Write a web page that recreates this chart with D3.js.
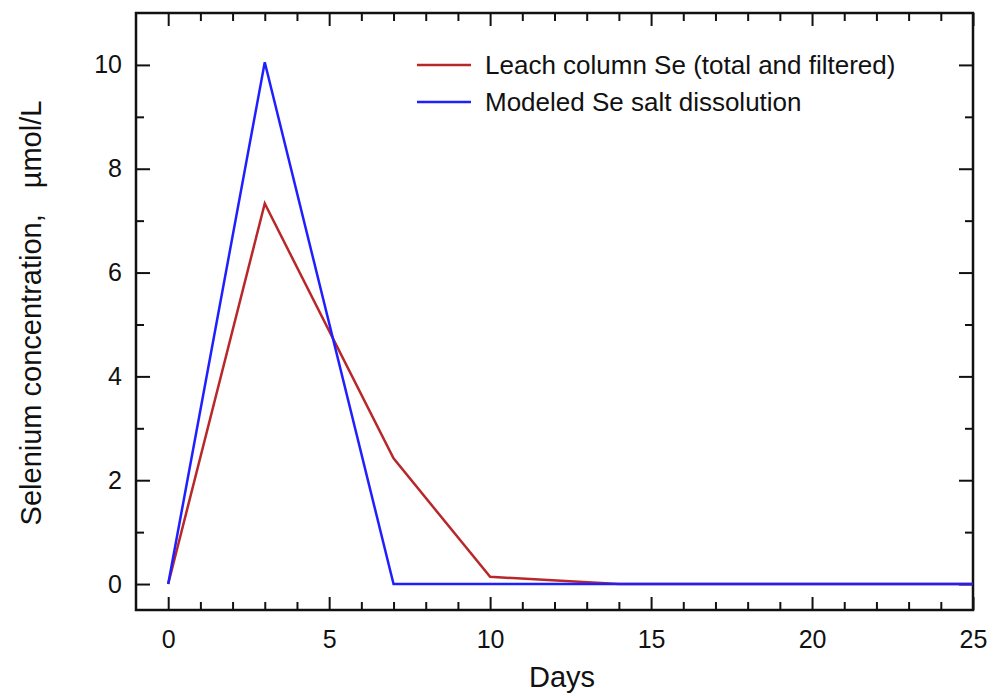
<!DOCTYPE html>
<html>
<head>
<meta charset="utf-8">
<script src="https://cdn.jsdelivr.net/npm/d3@7"></script>
<style>
  body { margin: 0; background: #fff; }
  svg text { font-family: "Liberation Sans", Arial, sans-serif; fill: #111; }
</style>
</head>
<body>
<div id="chart"></div>
<script>
// data
var leachDays = [0, 3, 7, 10, 14, 25];
var leachSe = [0, 7.33, 2.42, 0.14, 0, 0];
var modelDays = [0, 3, 7, 25];
var modelSe = [0, 10.05, 0, 0];
var seriesNames = ['Leach column Se (total and filtered)', 'Modeled Se salt dissolution'];
var seriesColors = ['#b8282a', '#1f1fff'];
var xMajor = [0, 5, 10, 15, 20, 25];
var yMajor = [0, 2, 4, 6, 8, 10];

var width = 988, height = 694;
var margin = { left: 136, right: 15, top: 13, bottom: 84 };

var svg = d3.select('#chart').append('svg')
    .attr('width', width)
    .attr('height', height);

var x = d3.scaleLinear().domain([-1, 25]).range([margin.left, width - margin.right]);
var y = d3.scaleLinear().domain([-0.5, 11]).range([height - margin.bottom, margin.top]);

var xMinor = d3.range(0, 25).filter(function (d) { return d % 5 !== 0; });
var yMinor = d3.range(1, 11, 2);

// minor ticks, all four sides, pointing in
function minor(axis, scale, vals, pos) {
    svg.append('g')
        .attr('transform', pos)
        .call(axis(scale).tickValues(vals).tickSize(-8).tickFormat(''))
        .call(function (g) { g.select('.domain').remove(); })
        .selectAll('line').attr('stroke', '#111').attr('stroke-width', 2);
}
minor(d3.axisBottom, x, xMinor, 'translate(0,' + y.range()[0] + ')');
minor(d3.axisTop, x, xMinor, 'translate(0,' + y.range()[1] + ')');
minor(d3.axisLeft, y, yMinor, 'translate(' + x.range()[0] + ',0)');
minor(d3.axisRight, y, yMinor, 'translate(' + x.range()[1] + ',0)');

// major ticks
svg.append('g')
    .attr('transform', 'translate(0,' + y.range()[0] + ')')
    .call(d3.axisBottom(x).tickValues(xMajor).tickSize(-13).tickPadding(20));
svg.append('g')
    .attr('transform', 'translate(' + x.range()[0] + ',0)')
    .call(d3.axisLeft(y).tickValues(yMajor).tickSize(-14).tickPadding(14));
svg.append('g')
    .attr('transform', 'translate(0,' + y.range()[1] + ')')
    .call(d3.axisTop(x).tickValues(xMajor).tickSize(-13).tickFormat(''));
svg.append('g')
    .attr('transform', 'translate(' + x.range()[1] + ',0)')
    .call(d3.axisRight(y).tickValues(yMajor).tickSize(-14).tickFormat(''));

svg.selectAll('.domain').remove();
svg.selectAll('.tick line').attr('stroke', '#111').attr('stroke-width', 2);
svg.selectAll('.tick text').attr('font-size', 25).attr('fill', '#111')
    .attr('font-family', '"Liberation Sans", Arial, sans-serif');

// frame
svg.append('rect')
    .attr('x', x.range()[0]).attr('y', y.range()[1])
    .attr('width', x.range()[1] - x.range()[0])
    .attr('height', y.range()[0] - y.range()[1])
    .attr('fill', 'none').attr('stroke', '#111').attr('stroke-width', 2.5);

// lines
var line = d3.line()
    .x(function (d) { return x(d[0]); })
    .y(function (d) { return y(d[1]); });

var leach = d3.zip(leachDays, leachSe);
var model = d3.zip(modelDays, modelSe);

svg.append('path').datum(leach)
    .attr('d', line).attr('fill', 'none')
    .attr('stroke', seriesColors[0]).attr('stroke-width', 2.5);
svg.append('path').datum(model)
    .attr('d', line).attr('fill', 'none')
    .attr('stroke', seriesColors[1]).attr('stroke-width', 2.5);

// legend
var legend = svg.append('g').attr('transform', 'translate(417,65)');
seriesNames.forEach(function (name, i) {
    var row = legend.append('g').attr('transform', 'translate(0,' + i * 37 + ')');
    row.append('line')
        .attr('x1', 0).attr('x2', 54)
        .attr('stroke', seriesColors[i]).attr('stroke-width', 2.5);
    row.append('text')
        .attr('x', 68).attr('dy', '0.35em')
        .attr('font-size', 26)
        .text(name);
});

// axis titles
svg.append('text')
    .attr('x', 562).attr('y', 687)
    .attr('text-anchor', 'middle')
    .attr('font-size', 29)
    .text('Days');

var yt = svg.append('text')
    .attr('transform', 'translate(41,313) rotate(-90)')
    .attr('text-anchor', 'middle')
    .attr('font-size', 29);
yt.append('tspan').text('Selenium concentration,');
yt.append('tspan').attr('dx', 26).text('µmol/L');
</script>
</body>
</html>
